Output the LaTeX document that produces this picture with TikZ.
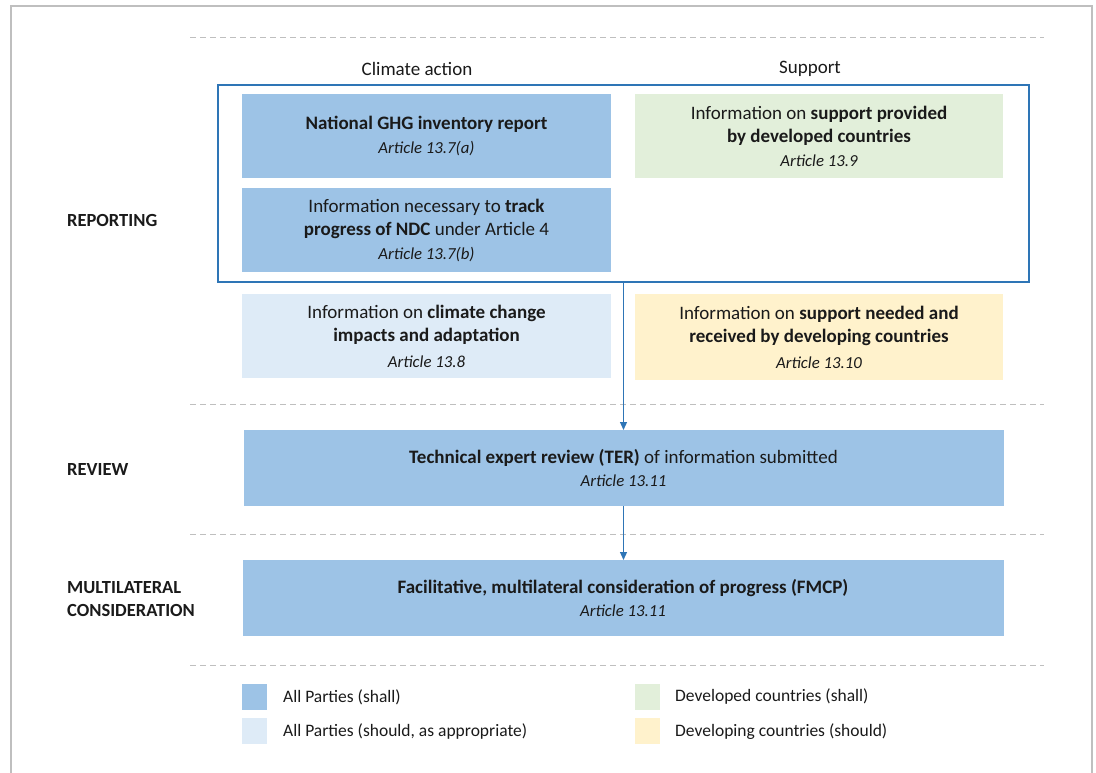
\documentclass[tikz,border=0pt]{standalone}
\usepackage{fontspec}
\setmainfont{Carlito}
\usetikzlibrary{arrows.meta}
\definecolor{shall}{HTML}{9DC3E6}
\definecolor{should}{HTML}{DEEBF7}
\definecolor{devd}{HTML}{E2EFDA}
\definecolor{devg}{HTML}{FFF2CC}
\definecolor{frameblue}{HTML}{2E75B6}
\definecolor{framegray}{HTML}{BFBFBF}
\definecolor{txt}{HTML}{1A1A1A}
\newcommand{\art}[1]{{\fontsize{16.8}{23.5}\selectfont\itshape #1}}
\begin{document}
\begin{tikzpicture}[x=1pt,y=-1pt,
  box/.style={inner sep=0pt, outer sep=0pt, align=center, text=txt,
    font=\fontsize{19}{23.5}\selectfont},
  lab/.style={inner sep=0pt, anchor=west, text=txt, font=\fontsize{18.5}{23}\selectfont\bfseries},
  head/.style={inner sep=0pt, text=txt, font=\fontsize{19}{23}\selectfont},
  legsq/.style={inner sep=0pt, minimum width=25pt, minimum height=26pt},
  legtxt/.style={inner sep=0pt, anchor=west, text=txt, font=\fontsize{17.5}{20}\selectfont},
  sep/.style={draw=framegray, line width=1pt, dash pattern=on 6pt off 4pt},
  arr/.style={draw=frameblue, line width=1.2pt, -{Triangle[length=8pt,width=7pt]}}]
\useasboundingbox (0,0) rectangle (1096,773);
% outer frame
\draw[framegray, line width=2pt] (11,774) -- (11,6) -- (1092,6) -- (1092,774);
% separators
\coordinate (s1a) at (190,38);  \coordinate (s1b) at (1044,38);
\coordinate (s2a) at (190,404); \coordinate (s2b) at (1044,404);
\coordinate (s3a) at (190,534); \coordinate (s3b) at (1044,534);
\coordinate (s4a) at (190,665); \coordinate (s4b) at (1044,665);
\draw[sep] (s1a) -- (s1b);
\draw[sep] (s2a) -- (s2b);
\draw[sep] (s3a) -- (s3b);
\draw[sep] (s4a) -- (s4b);
% headings
\node[head] (hca) at (417,69) {Climate action};
\node[head] (hsu) at (810,69) {Support};
% reporting frame
\node[draw=frameblue, line width=1.3pt, inner sep=0pt, minimum width=811pt, minimum height=197pt] (rep) at (623.5,183.5) {};
% boxes
\node[box, fill=shall, minimum width=369pt, minimum height=84pt] (ghg) at (426.5,136)
  {\textbf{National GHG inventory report}\\ \art{Article 13.7(a)}};
\node[box, fill=shall, minimum width=369pt, minimum height=84pt] (trk) at (426.5,230)
  {Information necessary to \textbf{track}\\ \textbf{progress of NDC} under Article 4\\ \art{Article 13.7(b)}};
\node[box, fill=devd, minimum width=368pt, minimum height=84pt] (prov) at (819,136)
  {Information on \textbf{support provided}\\ \textbf{by developed countries}\\ \art{Article 13.9}};
\node[box, fill=should, minimum width=369pt, minimum height=84pt] (imp) at (426.5,336)
  {Information on \textbf{climate change}\\ \textbf{impacts and adaptation}\\[2pt] \art{Article 13.8}};
\node[box, fill=devg, minimum width=368pt, minimum height=86pt] (need) at (819,337)
  {Information on \textbf{support needed and}\\ \textbf{received by developing countries}\\[2pt] \art{Article 13.10}};
\node[box, fill=shall, minimum width=760pt, minimum height=76pt] (ter) at (623.5,468)
  {\textbf{Technical expert review (TER)} of information submitted\\ \art{Article 13.11}};
\node[box, fill=shall, minimum width=761pt, minimum height=76pt] (fmcp) at (623,598)
  {\textbf{Facilitative, multilateral consideration of progress (FMCP)}\\ \art{Article 13.11}};
% arrows
\draw[arr] (rep.south) -- (rep.south |- ter.north);
\draw[arr] (ter.south) -- (ter.south |- fmcp.north);
% left labels
\node[lab] (lrep) at (67,220) {REPORTING};
\node[lab] (lrev) at (67,469) {REVIEW};
\node[lab, align=left, anchor=west] (lmul) at (67,599.5) {MULTILATERAL\\CONSIDERATION};
% legend
\node[legsq, fill=shall] (q1) at (254.5,697) {};
\node[legsq, fill=should] (q2) at (254.5,731) {};
\node[legsq, fill=devd] (q3) at (647.5,697) {};
\node[legsq, fill=devg] (q4) at (647.5,731) {};
\node[legtxt] (t1) at (283,697) {All Parties (shall)};
\node[legtxt] (t2) at (283,732) {All Parties (should, as appropriate)};
\node[legtxt] (t3) at (675,697) {Developed countries (shall)};
\node[legtxt] (t4) at (675,732) {Developing countries (should)};
\end{tikzpicture}
\end{document}
